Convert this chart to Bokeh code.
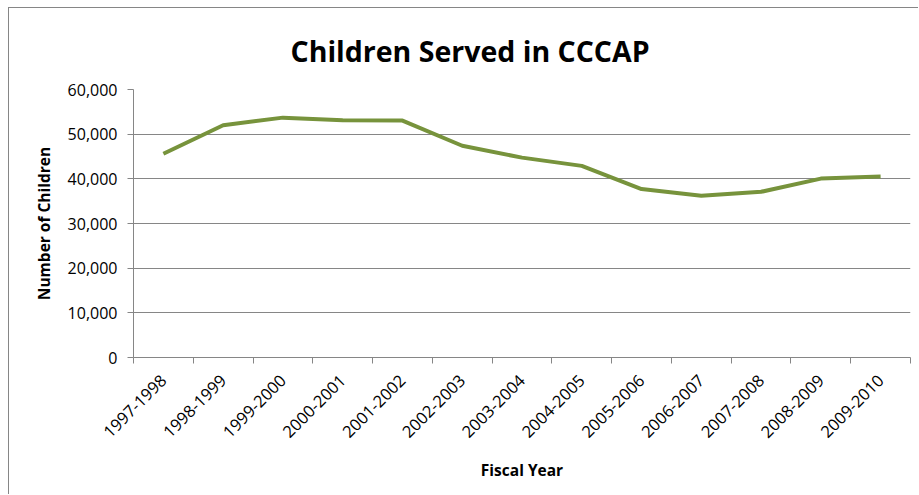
from bokeh.plotting import figure
from bokeh.models import FixedTicker, NumeralTickFormatter, Range1d, Title
from bokeh.embed import file_html
from bokeh.resources import INLINE
import math

years = ["1997-1998", "1998-1999", "1999-2000", "2000-2001", "2001-2002", "2002-2003",
         "2003-2004", "2004-2005", "2005-2006", "2006-2007", "2007-2008", "2008-2009",
         "2009-2010"]
children = [45600, 52000, 53700, 53100, 53050, 47400, 44750, 42900, 37700, 36200,
            37100, 40050, 40500]
y_ticks = [0, 10000, 20000, 30000, 40000, 50000, 60000]
title_text = "Children Served in CCCAP"

FONT = "Open Sans"
GRID = "#868686"

n = len(years)
xs = [i + 0.5 for i in range(n)]

p = figure(width=910, height=487, output_backend="svg", toolbar_location=None,
           x_range=Range1d(0, n), y_range=Range1d(0, 60000),
           min_border_left=124, min_border_right=9, min_border_top=81,
           min_border_bottom=138)
p.outline_line_color = None
p.background_fill_color = "white"
p.border_fill_color = "white"
p.styles = {"margin-left": "8px", "margin-top": "7px",
            "border-left": "1px solid #868686", "border-top": "1px solid #868686"}

t = Title(text=title_text, text_font=FONT, text_font_size="28.5px",
          text_font_style="bold", text_color="black", align="left", offset=157,
          standoff=39)
p.add_layout(t, "above")

p.line(xs, children, line_width=4, line_color="#77933C")

# x axis
xa = p.xaxis[0]
xa.ticker = FixedTicker(ticks=xs, minor_ticks=list(range(n + 1)))
xa.major_label_overrides = {x: lab for x, lab in zip(xs, years)}
xa.major_label_orientation = math.pi / 4
xa.major_tick_out = 0
xa.major_tick_in = 0
xa.minor_tick_out = 6
xa.minor_tick_in = 0
xa.minor_tick_line_color = GRID
xa.axis_line_color = GRID
xa.major_label_text_font = FONT
xa.major_label_text_font_size = "16.5px"
xa.major_label_text_color = "black"
xa.major_label_standoff = 14
xa.axis_label = "Fiscal Year"
xa.axis_label_text_font = FONT
xa.axis_label_text_font_size = "15.5px"
xa.axis_label_text_font_style = "bold"
xa.axis_label_text_color = "black"
xa.axis_label_standoff = 13

ya = p.yaxis[0]
ya.ticker = FixedTicker(ticks=y_ticks)
ya.formatter = NumeralTickFormatter(format="0,0")
ya.major_tick_out = 6
ya.major_tick_in = 0
ya.minor_tick_out = 0
ya.minor_tick_in = 0
ya.major_tick_line_color = GRID
ya.axis_line_color = GRID
ya.major_label_text_font = FONT
ya.major_label_text_font_size = "16px"
ya.major_label_text_color = "black"
ya.major_label_standoff = 10
ya.axis_label = "Number of Children"
ya.axis_label_text_font = FONT
ya.axis_label_text_font_size = "15.5px"
ya.axis_label_text_font_style = "bold"
ya.axis_label_text_color = "black"
ya.axis_label_standoff = 10

p.xgrid.visible = False
p.ygrid.grid_line_color = GRID
p.ygrid.grid_line_width = 1

open("out.html", "w").write(file_html(p, INLINE))
